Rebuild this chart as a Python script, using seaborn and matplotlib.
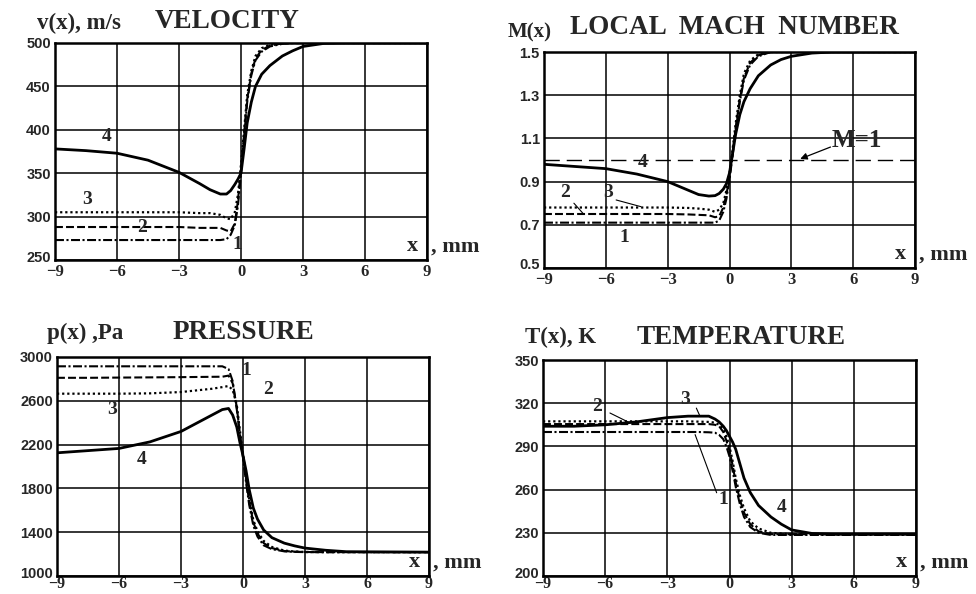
import matplotlib.pyplot as plt
import matplotlib.transforms as mtransforms
import pandas as pd
import seaborn as sns

sns.set_style('white')
plt.rcParams['font.family'] = ['Liberation Serif', 'DejaVu Serif']
plt.rcParams['font.weight'] = 'bold'
plt.rcParams['axes.unicode_minus'] = True

# x positions (mm), shared by every curve
x_mm = [-9, -7.5, -6, -4.5, -3, -2, -1.5, -1, -0.7, -0.5, -0.3, -0.15, 0,
        0.15, 0.3, 0.5, 0.7, 1.0, 1.4, 2, 2.5, 3, 4, 5, 9]

# velocity, m/s
v1 = [273, 273, 273, 273, 273, 273, 273, 273, 274, 279, 290, 312, 350,
      392, 432, 463, 480, 490, 496, 499, 500, 500, 500, 500, 500]
v2 = [288, 288, 288, 288, 288, 287, 287, 287, 284, 283, 292, 318, 355,
      395, 435, 465, 482, 492, 497, 499.5, 500, 500, 500, 500, 500]
v3 = [305, 305, 305, 305, 305, 304, 304, 302, 298, 297, 305, 325, 360,
      400, 440, 468, 485, 494, 498, 500, 500, 500, 500, 500, 500]
v4 = [378, 376, 373, 365, 351, 338, 331, 326, 326, 330, 337, 343, 350,
      378, 408, 432, 450, 464, 474, 485, 491, 496, 499.5, 500, 500]

# local Mach number
m1 = [0.71, 0.71, 0.71, 0.71, 0.71, 0.71, 0.71, 0.71, 0.71, 0.72, 0.76, 0.82, 0.91,
      1.02, 1.14, 1.27, 1.37, 1.44, 1.48, 1.5, 1.5, 1.5, 1.5, 1.5, 1.5]
m2 = [0.75, 0.75, 0.75, 0.75, 0.75, 0.748, 0.746, 0.744, 0.735, 0.74, 0.78, 0.84, 0.92,
      1.03, 1.15, 1.28, 1.38, 1.45, 1.485, 1.5, 1.5, 1.5, 1.5, 1.5, 1.5]
m3 = [0.78, 0.78, 0.78, 0.78, 0.78, 0.778, 0.775, 0.77, 0.76, 0.77, 0.80, 0.86, 0.94,
      1.05, 1.17, 1.30, 1.40, 1.46, 1.49, 1.5, 1.5, 1.5, 1.5, 1.5, 1.5]
m4 = [0.98, 0.97, 0.96, 0.935, 0.90, 0.86, 0.84, 0.833, 0.835, 0.845, 0.865, 0.89, 0.94,
      1.03, 1.12, 1.21, 1.27, 1.33, 1.39, 1.44, 1.465, 1.48, 1.495, 1.5, 1.5]

# pressure, Pa
p1 = [2915, 2915, 2915, 2915, 2915, 2915, 2915, 2915, 2890, 2780, 2520, 2280, 2080,
      1850, 1650, 1460, 1360, 1280, 1245, 1225, 1220, 1218, 1218, 1218, 1218]
p2 = [2810, 2810, 2812, 2814, 2816, 2818, 2819, 2820, 2830, 2760, 2540, 2300, 2100,
      1880, 1680, 1490, 1390, 1300, 1255, 1228, 1222, 1219, 1218, 1218, 1218]
p3 = [2665, 2665, 2665, 2668, 2680, 2700, 2710, 2725, 2735, 2700, 2560, 2330, 2120,
      1900, 1700, 1510, 1410, 1320, 1265, 1232, 1224, 1220, 1218, 1218, 1218]
p4 = [2125, 2145, 2165, 2225, 2320, 2420, 2470, 2520, 2530, 2470, 2360, 2220, 2100,
      1960, 1790, 1620, 1520, 1420, 1350, 1300, 1275, 1255, 1235, 1222, 1218]

# temperature, K
t1 = [300, 300, 300, 300, 300, 300, 300, 299.8, 299.5, 298, 295, 290, 283,
      273, 262, 250, 241, 234, 230, 228.5, 228.5, 228.5, 228.5, 228.5, 228.5]
t2 = [305.5, 305.5, 305.5, 305.5, 305.5, 305.5, 305.5, 305.5, 305, 304, 300, 294, 287,
      277, 265, 253, 244, 236, 231, 229, 229, 229, 229, 229, 229]
t3 = [307.4, 307.4, 307.4, 307.4, 307.4, 307.4, 307.2, 307, 306.5, 305, 302, 297, 290,
      280, 268, 256, 247, 238, 233, 230, 229.5, 229, 229, 229, 229]
t4 = [304, 304, 305, 307, 310, 311, 311, 311, 309, 307, 304, 301, 297,
      293, 288, 278, 268, 258, 249, 241, 236, 232, 229.5, 229, 229]

x_ticks = [-9, -6, -3, 0, 3, 6, 9]
curve_names = ['1', '2', '3', '4']

# line look of curves 1..4
styles = {
    '1': dict(lw=1.5, dashes=(4.3, 1.2, 1, 1.2)),
    '2': dict(lw=1.5, dashes=(3.8, 1.5)),
    '3': dict(lw=1.6, dashes=(1, 1.3)),
    '4': dict(lw=2.0, linestyle='-'),
}

W, H = 976, 594
fig = plt.figure(figsize=(W / 100, H / 100), dpi=100)


def px_axes(l, t, r, b):
    return fig.add_axes([l / W, 1 - b / H, (r - l) / W, (b - t) / H])


def draw_panel(ax, series, ylim, yticks, yfmt, xsize=12, xpad=3):
    df = pd.DataFrame({'x': x_mm * 4,
                       'y': sum(series, []),
                       'curve': sum([[c] * len(x_mm) for c in curve_names], [])})
    for c in curve_names:
        sns.lineplot(data=df[df['curve'] == c], x='x', y='y', ax=ax,
                     color='k', **styles[c])
    ax.set_xlim(-9, 9)
    ax.set_ylim(*ylim)
    ax.set_xticks(x_ticks)
    ax.set_yticks(yticks)
    ax.set_xticklabels(['\u2212%d' % -t if t < 0 else '%d' % t for t in x_ticks],
                       fontsize=xsize)
    ax.set_yticklabels([yfmt % t for t in yticks], fontsize=10.5,
                       family='Liberation Sans')
    ax.set_xlabel('')
    ax.set_ylabel('')
    ax.grid(True, color='k', lw=1.1)
    ax.set_axisbelow(True)
    for s in ax.spines.values():
        s.set_color('k')
        s.set_linewidth(1.8)
    ax.tick_params(axis='y', length=0, pad=3)
    ax.tick_params(axis='x', length=0, pad=xpad)
    # lift the lowest y label a little so it clears the first x label
    low = ax.get_yticklabels()[0]
    low.set_transform(low.get_transform() +
                      mtransforms.ScaledTranslation(0, 4 / 100, fig.dpi_scale_trans))
    ax.text(0.962, 0.063, 'x', transform=ax.transAxes, fontsize=16,
            ha='center', va='center')
    ax.text(1.012, 0.063, ', mm', transform=ax.transAxes, fontsize=16,
            ha='left', va='center', clip_on=False)


def lab(ax, x, y, s, size=14):
    ax.text(x, y, s, fontsize=size, ha='center', va='center')


def leader(ax, p0, p1):
    ax.annotate('', xy=p1, xytext=p0,
                arrowprops=dict(arrowstyle='-', lw=0.8, color='k',
                                shrinkA=0, shrinkB=0))


# velocity
ax = px_axes(55, 43, 427, 260)
draw_panel(ax, [v1, v2, v3, v4], (250, 500), [250, 300, 350, 400, 450, 500], '%d')
lab(ax, -6.5, 392, '4')
lab(ax, -7.45, 320, '3')
lab(ax, -4.8, 287, '2')
lab(ax, -0.2, 268, '1')
fig.text(37 / W, 1 - 23 / H, 'v(x), m/s', fontsize=16.5, ha='left', va='center')
fig.text(155 / W, 1 - 22 / H, 'VELOCITY', fontsize=19.5, ha='left', va='center')

# Mach number
ax = px_axes(544, 52, 915, 268)
draw_panel(ax, [m1, m2, m3, m4], (0.5, 1.5), [0.5, 0.7, 0.9, 1.1, 1.3, 1.5], '%.1f')
ax.axhline(1.0, color='k', lw=1.0, dashes=(11, 5), zorder=1.5)
lab(ax, -4.2, 0.99, '4')
lab(ax, -8.0, 0.85, '2')
lab(ax, -5.9, 0.85, '3')
lab(ax, -5.1, 0.64, '1')
leader(ax, (-7.55, 0.80), (-7.1, 0.752))
leader(ax, (-5.5, 0.815), (-4.3, 0.784))
lab(ax, 6.2, 1.09, 'M=1', size=18)
ax.annotate('', xy=(3.43, 1.005), xytext=(4.9, 1.06),
            arrowprops=dict(arrowstyle='-|>', lw=0.9, color='k',
                            shrinkA=0, shrinkB=0, mutation_scale=10))
fig.text(508 / W, 1 - 32 / H, 'M(x)', fontsize=15, ha='left', va='center')
fig.text(570 / W, 1 - 27 / H, 'LOCAL  MACH  NUMBER', fontsize=19.5,
         ha='left', va='center')

# pressure
ax = px_axes(57, 357, 429, 576)
draw_panel(ax, [p1, p2, p3, p4], (1000, 3000), [1000, 1400, 1800, 2200, 2600, 3000], '%d',
           xsize=11.5, xpad=0)
lab(ax, 0.18, 2880, '1')
lab(ax, 1.22, 2700, '2')
lab(ax, -6.35, 2516, '3')
lab(ax, -4.9, 2066, '4')
fig.text(47 / W, 1 - 333 / H, 'p(x) ,Pa', fontsize=16.5, ha='left', va='center')
fig.text(173 / W, 1 - 333 / H, 'PRESSURE', fontsize=19.5, ha='left', va='center')

# temperature
ax = px_axes(543, 360, 916, 576)
draw_panel(ax, [t1, t2, t3, t4], (200, 350), [200, 230, 260, 290, 320, 350], '%d',
           xsize=11.5, xpad=0)
lab(ax, -6.4, 317.7, '2')
lab(ax, -2.15, 322.4, '3')
lab(ax, -0.3, 253, '1')
lab(ax, 2.52, 247.5, '4')
leader(ax, (-5.77, 313.2), (-4.8, 306.3))
leader(ax, (-1.6, 316.6), (-1.42, 310.8))
leader(ax, (-0.62, 257.8), (-1.66, 298.2))
fig.text(525 / W, 1 - 337 / H, 'T(x), K', fontsize=16.5, ha='left', va='center')
fig.text(637 / W, 1 - 337 / H, 'TEMPERATURE', fontsize=19.5, ha='left', va='center')

fig.savefig('out.png', dpi=100)
